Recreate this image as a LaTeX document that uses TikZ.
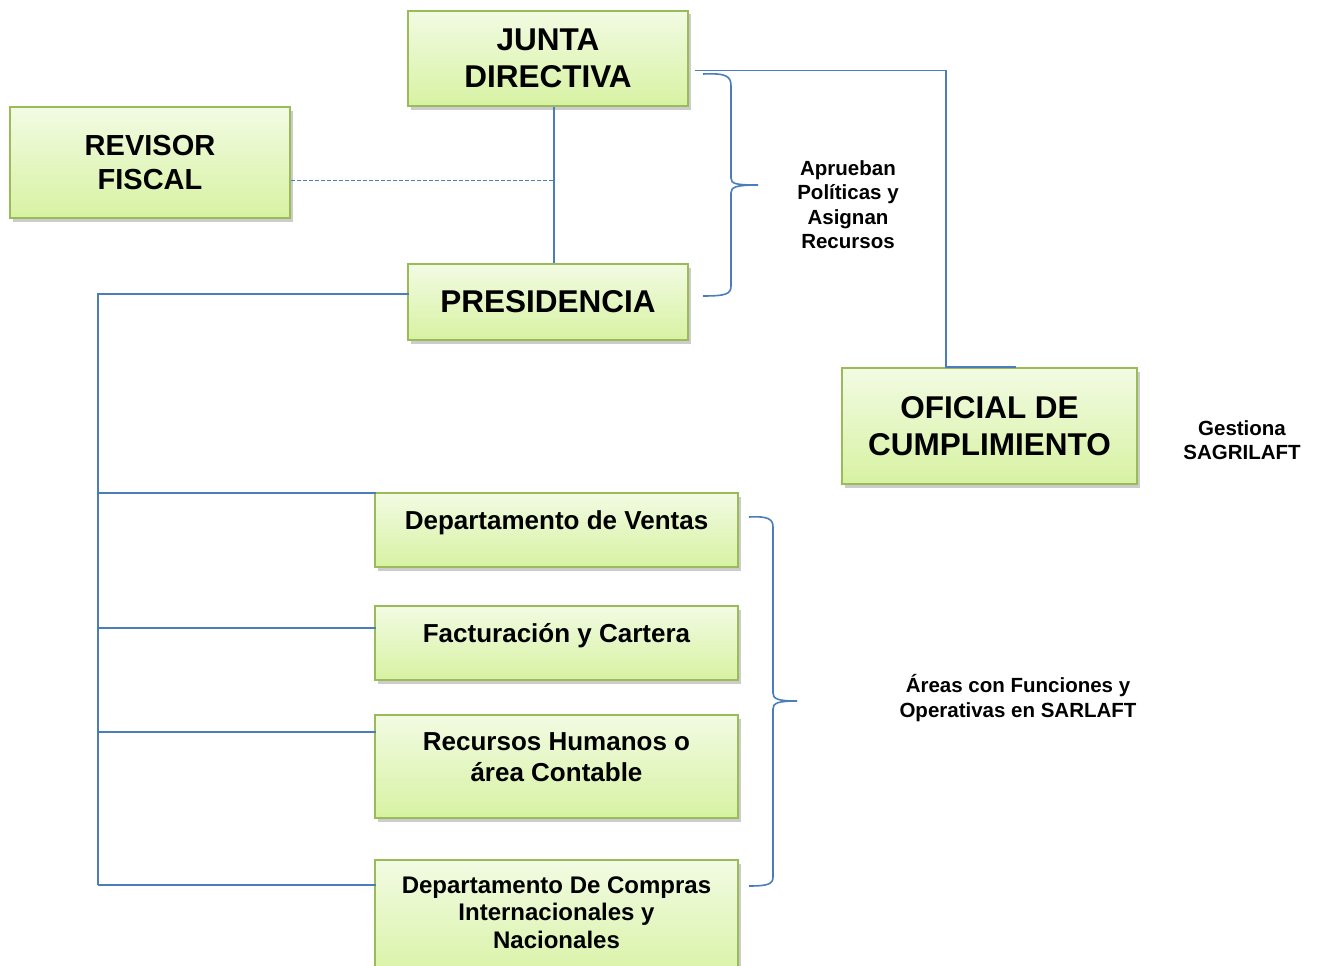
\documentclass[tikz,border=0pt]{standalone}
\usepackage{fontspec}
\setmainfont{Liberation Sans}
\usetikzlibrary{shadows,calc}
\definecolor{boxtop}{HTML}{F2FBE3}
\definecolor{boxbot}{HTML}{D7F2A2}
\definecolor{boxline}{HTML}{9BBB59}
\definecolor{connblue}{HTML}{4A7EBB}
\tikzset{
  box/.style={draw=boxline, line width=2pt, top color=boxtop, bottom color=boxbot,
    drop shadow={opacity=0.4, shadow xshift=2.5pt, shadow yshift=-3.5pt}, align=center, inner sep=0pt},
  big/.style={font=\bfseries\fontsize{31.5}{37}\selectfont},
  mid/.style={font=\bfseries\fontsize{29}{34}\selectfont},
  dept/.style={align=center, font=\bfseries\fontsize{26}{31}\selectfont},
  deptsm/.style={align=center, font=\bfseries\fontsize{24}{27.5}\selectfont},
  note/.style={align=center, font=\bfseries\fontsize{20.5}{24.5}\selectfont},
  conn/.style={draw=connblue, line width=1.6pt},
}
\begin{document}
\begin{tikzpicture}[x=1pt, y=-1pt]
  \useasboundingbox (0,0) rectangle (1318,966);
  \node[box, big, minimum width=280pt, minimum height=95pt] (junta) at (548,58.5) {JUNTA\\DIRECTIVA};
  \node[box, mid, minimum width=280pt, minimum height=111pt] (revisor) at (150,162.5) {REVISOR\\FISCAL};
  \node[box, big, minimum width=280pt, minimum height=76pt] (presidencia) at (548,302) {PRESIDENCIA};
  \node[box, big, minimum width=295pt, minimum height=116pt] (oficial) at (989.5,426) {OFICIAL DE\\CUMPLIMIENTO};

  \node[box, minimum width=363pt, minimum height=74pt] (ventas) at (556.5,530) {};
  \node[box, minimum width=363pt, minimum height=74pt] (facturacion) at (556.5,643) {};
  \node[box, minimum width=363pt, minimum height=103pt] (rrhh) at (556.5,766.5) {};
  \node[box, minimum width=363pt, minimum height=125pt] (compras) at (556.5,922.5) {};
  \node[dept] (ventas-t) at ([yshift=7pt]ventas.center) {Departamento de Ventas};
  \node[dept] (facturacion-t) at ([yshift=7pt]facturacion.center) {Facturación y Cartera};
  \node[dept] (rrhh-t) at ([yshift=9pt]rrhh.center) {Recursos Humanos o\\área Contable};
  \node[deptsm] (compras-t) at ([yshift=10pt]compras.center) {Departamento De Compras\\Internacionales y\\Nacionales};

  \node[note] (aprueban) at (848,204.5) {Aprueban\\Políticas y\\Asignan\\Recursos};
  \node[note] (gestiona) at (1242,440) {Gestiona\\SAGRILAFT};
  \node[note] (areas) at (1018,698) {Áreas con Funciones y\\Operativas en SARLAFT};

  \coordinate (jp) at ([xshift=6pt]junta.south);
  \coordinate (trunk) at (98,0);
  \draw[conn] (jp) -- ([xshift=6pt]presidencia.north);
  \draw[conn, dash pattern=on 4pt off 2pt] ([yshift=-18pt]revisor.east) -- ([yshift=-18pt]revisor.east -| jp);
  \draw[conn] ([shift={(6pt,-12pt)}]junta.east) -| ([xshift=105pt]oficial.north west)
    -- ([xshift=175pt]oficial.north west);
  \draw[conn] ([shift={(2pt,8pt)}]presidencia.west) -| ([yshift=-26pt]compras.north west -| trunk);
  \foreach \n/\dy in {ventas/1,facturacion/23,rrhh/18,compras/26}
    \draw[conn] ([yshift=-\dy pt]\n.north west -| trunk) -- ([shift={(2pt,-\dy pt)}]\n.north west);

  \draw[conn] (703,74) .. controls (726,73) and (731,76) .. (731,86) -- (731,178)
    .. controls (731,184) and (736,185) .. (758,185)
    .. controls (736,185) and (731,187) .. (731,193) -- (731,286)
    .. controls (731,294) and (726,296) .. (703,296);
  \draw[conn] (749,517) .. controls (768,516) and (773,519) .. (773,527) -- (773,693)
    .. controls (773,699) and (778,701) .. (797,701)
    .. controls (778,701) and (773,703) .. (773,709) -- (773,877)
    .. controls (773,884) and (768,886) .. (749,886);
\end{tikzpicture}
\end{document}
